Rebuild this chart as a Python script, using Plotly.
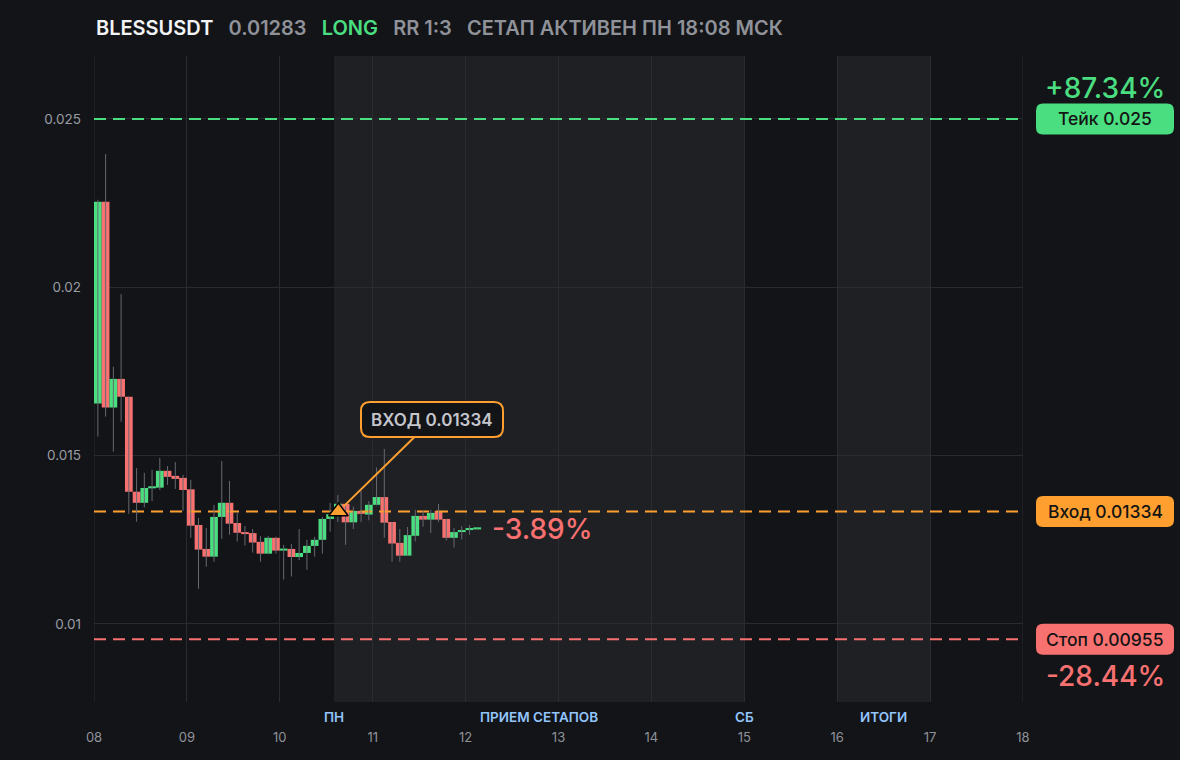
import pandas as pd
import plotly.graph_objects as go

# 2h candles, BLESSUSDT
start = "2025-11-08 00:00"
open_ = [0.01655, 0.02254, 0.01643, 0.01728, 0.01675, 0.01393, 0.01360, 0.01403, 0.01405, 0.01455,
         0.01440, 0.01434, 0.01400, 0.01294, 0.01223, 0.01200, 0.01318, 0.01360, 0.01300, 0.01273,
         0.01270, 0.01244, 0.01209, 0.01256, 0.01218, 0.01223, 0.01199, 0.01211, 0.01232, 0.01250,
         0.01312, 0.01326, 0.01357, 0.01302, 0.01336, 0.01325, 0.01354, 0.01377, 0.01303, 0.01241,
         0.01203, 0.01262, 0.01321, 0.01310, 0.01336, 0.01312, 0.01256, 0.01273, 0.01279, 0.01281]
high = [0.02260, 0.02396, 0.01764, 0.01980, 0.01675, 0.01463, 0.01449, 0.01458, 0.01493, 0.01469,
        0.01481, 0.01443, 0.01428, 0.01315, 0.01285, 0.01354, 0.01484, 0.01425, 0.01331, 0.01291,
        0.01282, 0.01261, 0.01261, 0.01259, 0.01235, 0.01238, 0.01282, 0.01250, 0.01259, 0.01318,
        0.01360, 0.01383, 0.01357, 0.01349, 0.01395, 0.01365, 0.01465, 0.01520, 0.01303, 0.01282,
        0.01288, 0.01339, 0.01336, 0.01339, 0.01357, 0.01312, 0.01285, 0.01291, 0.01294, 0.01284]
low = [0.01557, 0.01616, 0.01512, 0.01601, 0.01327, 0.01304, 0.01346, 0.01365, 0.01398, 0.01413,
       0.01401, 0.01336, 0.01256, 0.01105, 0.01170, 0.01185, 0.01253, 0.01265, 0.01245, 0.01233,
       0.01212, 0.01185, 0.01209, 0.01209, 0.01132, 0.01141, 0.01190, 0.01161, 0.01200, 0.01209,
       0.01274, 0.01303, 0.01235, 0.01282, 0.01303, 0.01308, 0.01352, 0.01256, 0.01185, 0.01185,
       0.01203, 0.01245, 0.01289, 0.01270, 0.01303, 0.01248, 0.01227, 0.01251, 0.01265, 0.01280]
close = [0.02254, 0.01643, 0.01728, 0.01675, 0.01393, 0.01360, 0.01404, 0.01407, 0.01455, 0.01437,
         0.01431, 0.01398, 0.01292, 0.01221, 0.01200, 0.01318, 0.01360, 0.01298, 0.01271, 0.01267,
         0.01242, 0.01209, 0.01256, 0.01218, 0.01224, 0.01199, 0.01211, 0.01232, 0.01250, 0.01312,
         0.01326, 0.01357, 0.01302, 0.01336, 0.01327, 0.01354, 0.01377, 0.01301, 0.01239, 0.01203,
         0.01264, 0.01321, 0.01310, 0.01330, 0.01310, 0.01256, 0.01273, 0.01277, 0.01283, 0.01283]

TAKE = 0.025
ENTRY = 0.01334
STOP = 0.00955
entry_time = "2025-11-10 15:08"
sessions = [("2025-11-10 14:00", "2025-11-15 00:00"), ("2025-11-16 00:00", "2025-11-17 00:00")]
session_labels = [("2025-11-10 14:00", "ПН"), ("2025-11-12 19:00", "ПРИЕМ СЕТАПОВ"),
                  ("2025-11-15 00:00", "СБ"), ("2025-11-16 12:00", "ИТОГИ")]
x_range = ["2025-11-08 00:00", "2025-11-18 00:00"]
y_range = [0.007683, 0.026871]

BG = "#131418"
SHADE = "#1f2024"
GRID = "#2a2b30"
GREEN = "#4ade80"
RED = "#f87171"
ORANGE = "#ff9f2f"
GRAY = "#8f9299"
FONT = "Inter"

# plot area in pixels
L, R, T, B = 94, 1023, 56, 702


def px(x):
    return (x - L) / (R - L)


def py(y):
    return (B - y) / (B - T)


def vy(v):
    return (v - y_range[0]) / (y_range[1] - y_range[0])


def rbox(x0, y0, x1, y1, r):
    # rounded rect path in paper coords, input in pixels
    rx = r / (R - L)
    ry = r / (B - T)
    a, b, c, d = px(x0), py(y1), px(x1), py(y0)
    return (f"M {a+rx},{b} L {c-rx},{b} Q {c},{b} {c},{b+ry} L {c},{d-ry} Q {c},{d} {c-rx},{d} "
            f"L {a+rx},{d} Q {a},{d} {a},{d-ry} L {a},{b+ry} Q {a},{b} {a+rx},{b} Z")


times = pd.date_range(start, periods=len(open_), freq="2h")
centers = times + pd.Timedelta(hours=1)
width_ms = 2 * 3600 * 1000

wick_x, wick_y = [], []
for t, h, l in zip(centers, high, low):
    wick_x += [t, t, None]
    wick_y += [l, h, None]

base = [min(o, c) for o, c in zip(open_, close)]
height = [max(abs(c - o), 0.00006) for o, c in zip(open_, close)]
colors = [GREEN if c >= o else RED for o, c in zip(open_, close)]

fig = go.Figure()
# take / entry / stop levels, under the candles
for lvl, col in [(TAKE, GREEN), (ENTRY, ORANGE), (STOP, RED)]:
    fig.add_trace(go.Scatter(x=x_range, y=[lvl, lvl], mode="lines", hoverinfo="skip",
                             line=dict(color=col, width=2, dash="12px,7px")))
fig.add_trace(go.Scatter(x=wick_x, y=wick_y, mode="lines", line=dict(color="#666971", width=1),
                         hoverinfo="skip"))
fig.add_trace(go.Bar(x=centers, y=height, base=base, width=width_ms, marker_color=colors,
                     marker_line_width=0))
fig.add_trace(go.Scatter(x=[pd.Timestamp(entry_time)], y=[ENTRY], mode="markers",
                         marker=dict(symbol="triangle-up", size=17, color=ORANGE,
                                     line=dict(color="#000000", width=1.5))))

shapes = []
for s0, s1 in sessions:
    shapes.append(dict(type="rect", xref="x", yref="paper", x0=s0, x1=s1, y0=0, y1=1,
                       fillcolor=SHADE, line_width=0, layer="below"))
# grid lines at the left and right edge of the plot
for xe in x_range:
    shapes.append(dict(type="line", xref="x", yref="paper", x0=xe, x1=xe, y0=0, y1=1,
                       line=dict(color=GRID, width=1), layer="below"))

# right side price boxes
annotations = []
for lvl, col, txt in [(TAKE, GREEN, "Тейк 0.025"), (ENTRY, ORANGE, "Вход 0.01334"),
                      (STOP, RED, "Стоп 0.00955")]:
    yc = B - vy(lvl) * (B - T)
    shapes.append(dict(type="path", xref="paper", yref="paper", path=rbox(1036, yc - 15.5, 1174, yc + 15.5, 7),
                       fillcolor=col, line_width=0, layer="above"))
    annotations.append(dict(xref="paper", yref="y", x=px(1105), y=lvl, text=txt, showarrow=False,
                            xanchor="center", yanchor="middle",
                            font=dict(family=FONT, size=17.5, color="#141414", weight=500)))

annotations.append(dict(xref="paper", yref="paper", x=px(1105), y=py(88), text="+87.34%", showarrow=False,
                        xanchor="center", yanchor="middle",
                        font=dict(family=FONT, size=28, color=GREEN, weight=500)))
annotations.append(dict(xref="paper", yref="paper", x=px(1105), y=py(676), text="-28.44%", showarrow=False,
                        xanchor="center", yanchor="middle",
                        font=dict(family=FONT, size=28, color=RED, weight=500)))
annotations.append(dict(x=centers[-1], y=close[-1], text="-3.89%", showarrow=False, xanchor="left",
                        yanchor="middle", xshift=13,
                        font=dict(family=FONT, size=28, color=RED, weight=500)))

# entry callout
shapes.append(dict(type="path", xref="paper", yref="paper", path=rbox(361, 402, 503, 437, 9),
                   fillcolor=BG, line=dict(color=ORANGE, width=2), layer="above"))
annotations.append(dict(x=pd.Timestamp(entry_time), y=ENTRY, text="ВХОД 0.01334", showarrow=True,
                        arrowhead=0, arrowwidth=2, arrowcolor=ORANGE, ax=94, ay=-92, standoff=7,
                        borderpad=7, font=dict(family=FONT, size=17, color="#c4c6cc", weight=600)))

for t, txt in session_labels:
    annotations.append(dict(x=t, xref="x", yref="paper", y=py(717), text=txt, showarrow=False,
                            xanchor="center", yanchor="middle",
                            font=dict(family=FONT, size=13.5, color="#93c5fd", weight=600)))

sp = "&nbsp;&nbsp;&nbsp;"
header = (f"<span style='color:#f3f4f6'>BLESSUSDT</span>{sp}"
          f"<span style='color:{GRAY}'>0.01283</span>{sp}"
          f"<span style='color:{GREEN}'>LONG</span>{sp}"
          f"<span style='color:{GRAY}'>RR 1:3</span>{sp}"
          f"<span style='color:{GRAY}'>СЕТАП АКТИВЕН ПН 18:08 МСК</span>")
annotations.append(dict(xref="paper", yref="paper", x=0, y=py(28), xanchor="left", yanchor="middle",
                        text=header, showarrow=False, font=dict(family=FONT, size=20, weight=600)))

fig.update_layout(
    width=1180, height=760,
    margin=dict(l=L, r=1180 - R, t=T, b=760 - B, autoexpand=False),
    paper_bgcolor=BG, plot_bgcolor=BG,
    showlegend=False, barmode="overlay",
    shapes=shapes, annotations=annotations,
    font=dict(family=FONT, color=GRAY),
)
fig.update_xaxes(type="date", range=x_range, dtick=86400000, tickformat="%d", showgrid=True,
                 gridcolor=GRID, gridwidth=1, zeroline=False, showline=False, ticks="",
                 ticklabelstandoff=26, tickfont=dict(family=FONT, size=13, color=GRAY))
fig.update_yaxes(range=y_range, tick0=0, dtick=0.005, showgrid=True, gridcolor=GRID, gridwidth=1,
                 zeroline=False, showline=False, ticks="", ticklabelstandoff=12,
                 tickfont=dict(family=FONT, size=13.5, color="#9a9ca3"))

fig.write_html("out.html", config={"displayModeBar": False},
               post_script="document.body.style.margin='0';"
                           "document.body.style.background='#131418';")
